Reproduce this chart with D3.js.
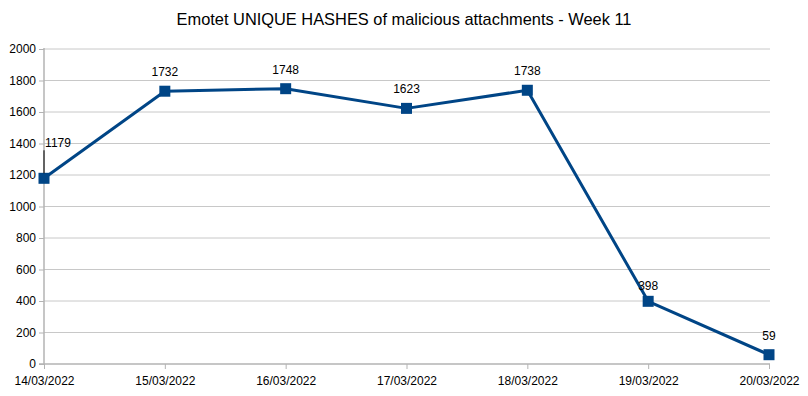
<!DOCTYPE html>
<html>
<head>
<meta charset="utf-8">
<script src="https://cdn.jsdelivr.net/npm/d3@7"></script>
<style>
  body { margin: 0; background: #fff; }
  text { font-family: "Liberation Sans", Arial, sans-serif; fill: #000; }
</style>
</head>
<body>
<svg id="main" width="808" height="396"></svg>
<script>
var dates = ["14/03/2022", "15/03/2022", "16/03/2022", "17/03/2022", "18/03/2022", "19/03/2022", "20/03/2022"];
var hashes = [1179, 1732, 1748, 1623, 1738, 398, 59];
var yTicks = [0, 200, 400, 600, 800, 1000, 1200, 1400, 1600, 1800, 2000];

var svg = d3.select("svg#main");
var plotLeft = 44, plotRight = 769, plotTop = 49, plotBottom = 364;

var x = d3.scalePoint().domain(dates).range([plotLeft, plotRight]);
var y = d3.scaleLinear().domain([0, 2000]).range([plotBottom, plotTop]);

// title
svg.append("text")
  .attr("x", 404).attr("y", 25)
  .attr("text-anchor", "middle")
  .style("font-size", "16.4px")
  .text("Emotet UNIQUE HASHES of malicious attachments - Week 11");

// grid lines
svg.append("g").selectAll("line")
  .data(yTicks.filter(function (d) { return d > 0; }))
  .enter().append("line")
  .attr("x1", plotLeft).attr("x2", plotRight + 1)
  .attr("y1", function (d) { return y(d); })
  .attr("y2", function (d) { return y(d); })
  .style("stroke", "#c8c8c8").style("stroke-width", 1);

// y axis
var yAxis = d3.axisLeft(y).tickValues(yTicks).tickFormat(d3.format("d")).tickSize(5).tickPadding(3);
var gy = svg.append("g").attr("transform", "translate(" + plotLeft + ",0)").call(yAxis);
gy.select(".domain").remove();
gy.selectAll("line").style("stroke", "#b3b3b3");
gy.selectAll("text").style("font-size", "12px").style("font-family", "Liberation Sans, Arial, sans-serif");

// x axis
var xAxis = d3.axisBottom(x).tickSize(5).tickSizeOuter(0).tickPadding(7);
var gx = svg.append("g").attr("transform", "translate(0," + plotBottom + ")").call(xAxis);
gx.select(".domain").remove();
gx.selectAll("line").style("stroke", "#b3b3b3");
gx.selectAll("text").style("font-size", "12px").style("font-family", "Liberation Sans, Arial, sans-serif");

// axis lines
svg.append("line").attr("x1", plotLeft).attr("x2", plotLeft).attr("y1", plotTop - 1).attr("y2", plotBottom)
  .style("stroke", "#b3b3b3").style("stroke-width", 1.5);
svg.append("line").attr("x1", plotLeft - 5).attr("x2", plotRight + 1).attr("y1", plotBottom).attr("y2", plotBottom)
  .style("stroke", "#b3b3b3").style("stroke-width", 1.5);

var pts = dates.map(function (d, i) { return { date: d, value: hashes[i] }; });

// line
svg.append("path")
  .datum(pts)
  .attr("d", d3.line().x(function (d) { return x(d.date); }).y(function (d) { return y(d.value); }))
  .style("fill", "none").style("stroke", "#004586").style("stroke-width", 3).style("stroke-linejoin", "round");

// markers
svg.append("g").selectAll("rect")
  .data(pts).enter().append("rect")
  .attr("x", function (d) { return x(d.date) - 5.5; })
  .attr("y", function (d) { return y(d.value) - 5.5; })
  .attr("width", 11).attr("height", 11)
  .style("fill", "#004586");

// leader line for first label
svg.append("line")
  .attr("x1", x(dates[0])).attr("x2", x(dates[0]))
  .attr("y1", y(hashes[0]) - 5).attr("y2", y(hashes[0]) - 28)
  .style("stroke", "#000").style("stroke-width", 1);

// value labels
svg.append("g").selectAll("text")
  .data(pts).enter().append("text")
  .attr("x", function (d, i) { return i === 0 ? x(d.date) + 14 : x(d.date); })
  .attr("y", function (d, i) { return i === 0 ? y(d.value) - 31 : (i === 5 ? y(d.value) - 11 : y(d.value) - 15); })
  .attr("text-anchor", "middle")
  .style("font-size", "12px")
  .text(function (d) { return d.value; });
</script>
</body>
</html>
